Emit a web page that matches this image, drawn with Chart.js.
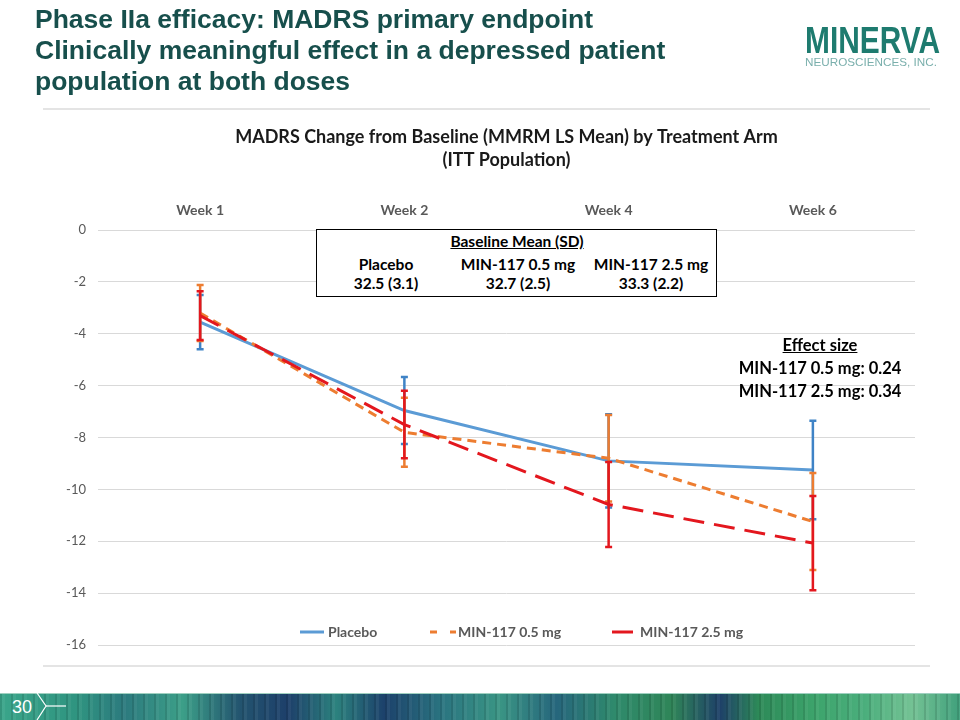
<!DOCTYPE html>
<html>
<head>
<meta charset="utf-8">
<script src="https://cdn.jsdelivr.net/npm/chart.js@4"></script>
<style>
  html, body { margin:0; padding:0; width:960px; height:720px; background:#fff; overflow:hidden; }
  #wrap { position:relative; width:960px; height:720px; }
  #chart { position:absolute; left:0; top:0; }
  .abs { position:absolute; }
  #head { left:35px; top:4px; font-family:"Liberation Sans", Arial, sans-serif; font-weight:bold;
          font-size:26.5px; line-height:31px; color:#174F4C; white-space:nowrap; }
  .rule { position:absolute; left:43px; width:887px; height:2px; background:#E4E4E4; }
  #tbl { left:316px; top:229px; width:399px; height:66px; border:1px solid #000; background:#fff;
         font-family:Lato, "Open Sans", sans-serif; font-weight:bold; font-size:15.5px; color:#000; }
  #tbl div { position:absolute; transform:translateX(-50%); white-space:nowrap; }
  #eff { left:720px; top:334px; width:200px; text-align:center; font-family:Lato, "Open Sans", sans-serif;
         font-weight:bold; font-size:16.5px; line-height:23px; color:#000; }
  #legend { left:0; top:622px; width:960px; height:20px; font-family:Lato, "Open Sans", sans-serif;
            font-weight:bold; font-size:14px; color:#595959; }
  #legend span { position:absolute; top:1px; white-space:nowrap; }
  #legend svg { position:absolute; top:0; }
  #strip { left:0; top:693px; width:960px; height:27px; border-top:1px solid #9fd0c0;
    background:
      repeating-linear-gradient(90deg, rgba(0,0,0,0.10) 0 2px, rgba(255,255,255,0.05) 2px 5px, transparent 5px 11px),
      linear-gradient(90deg, #3aa58a 0%, #2f9480 8%, #2c7a7e 13%, #3c9f88 19%, #23546f 25%, #1d3f6a 30%, #2c827e 35%, #1c416b 40%, #2a7480 46%, #3a9584 52%, #26667c 58%, #2f8a6c 64%, #2f8558 70%, #1e4068 75%, #2d8a58 79%, #3da46c 85%, #4aae7c 90%, #74c294 95%, #40a07c 100%); }
</style>
</head>
<body>
<div id="wrap">
  <canvas id="chart" width="960" height="720"></canvas>

  <div id="head" class="abs">Phase IIa efficacy: MADRS primary endpoint<br>Clinically meaningful effect in a depressed patient<br>population at both doses</div>

  <svg class="abs" style="left:800px;top:20px" width="150" height="55">
    <text x="5" y="33" font-family="Liberation Sans, Arial, sans-serif" font-weight="bold" font-size="36" fill="#1E7B6F" textLength="135" lengthAdjust="spacingAndGlyphs">MINERVA</text>
    <text x="5" y="46" font-family="Liberation Sans, Arial, sans-serif" font-size="11" fill="#7AAFAC" textLength="132" lengthAdjust="spacingAndGlyphs">NEUROSCIENCES, INC.</text>
  </svg>

  <div class="rule" style="top:108px"></div>
  <div class="rule" style="top:665px"></div>

  <div id="tbl" class="abs">
    <div style="left:200px;top:2px;text-decoration:underline">Baseline Mean (SD)</div>
    <div style="left:69px;top:25px">Placebo</div>
    <div style="left:201px;top:25px">MIN-117 0.5 mg</div>
    <div style="left:334px;top:25px">MIN-117 2.5 mg</div>
    <div style="left:69px;top:44px">32.5 (3.1)</div>
    <div style="left:201px;top:44px">32.7 (2.5)</div>
    <div style="left:334px;top:44px">33.3 (2.2)</div>
  </div>

  <div id="eff" class="abs"><u>Effect size</u><br>MIN-117 0.5 mg: 0.24<br>MIN-117 2.5 mg: 0.34</div>

  <div id="legend" class="abs">
    <svg style="left:300px" width="26" height="20"><line x1="0" y1="10" x2="24" y2="10" stroke="#5B9BD5" stroke-width="3"/></svg>
    <span style="left:328px">Placebo</span>
    <svg style="left:430px" width="30" height="20"><line x1="0" y1="10" x2="26" y2="10" stroke="#ED7D31" stroke-width="3" stroke-dasharray="7,13"/></svg>
    <span style="left:458px">MIN-117 0.5 mg</span>
    <svg style="left:612px" width="26" height="20"><line x1="0" y1="10" x2="21" y2="10" stroke="#E3171E" stroke-width="3"/></svg>
    <span style="left:640px">MIN-117 2.5 mg</span>
  </div>

  <div id="strip" class="abs"></div>
  <svg class="abs" style="left:0;top:693px" width="80" height="27">
    <text x="12" y="20" font-family="Liberation Sans, Arial, sans-serif" font-size="18" fill="#fff">30</text>
    <polyline points="37,0 46,13 37,27" fill="none" stroke="#fff" stroke-width="1.2"/>
    <line x1="46" y1="13" x2="66" y2="13" stroke="#fff" stroke-width="1.2"/>
  </svg>
</div>

<script>
// ---- data ----
const weeks = ["Week 1", "Week 2", "Week 4", "Week 6"];
const seriesNames = ["Placebo", "MIN-117 0.5 mg", "MIN-117 2.5 mg"];
const placebo = [-3.55, -6.96, -8.9, -9.25];
const placeboErr = [1.05, 1.29, 1.8, 1.9];
const dose05 = [-3.2, -7.8, -8.8, -11.24];
const dose05Err = [1.08, 1.33, 1.67, 1.87];
const dose25 = [-3.3, -7.5, -10.58, -12.07];
const dose25Err = [0.94, 1.3, 1.64, 1.82];
const yTicks = [0, -2, -4, -6, -8, -10, -12, -14, -16];

Chart.defaults.font.family = 'Lato, "Open Sans", sans-serif';

const errorBars = {
  id: 'errorBars',
  afterDatasetDraw(chart, args) {
    const ds = chart.data.datasets[args.index];
    if (!ds.err) return;
    const ctx = chart.ctx, ys = chart.scales.y;
    ctx.save();
    ctx.strokeStyle = ds.errColor;
    ctx.lineWidth = 2.5;
    ctx.setLineDash([]);
    args.meta.data.forEach((pt, i) => {
      const v = ds.data[i], e = ds.err[i];
      const yt = ys.getPixelForValue(v + e), yb = ys.getPixelForValue(v - e);
      ctx.beginPath();
      ctx.moveTo(pt.x, yt); ctx.lineTo(pt.x, yb);
      ctx.moveTo(pt.x - 3.5, yt); ctx.lineTo(pt.x + 3.5, yt);
      ctx.moveTo(pt.x - 3.5, yb); ctx.lineTo(pt.x + 3.5, yb);
      ctx.stroke();
    });
    ctx.restore();
  }
};

new Chart(document.getElementById('chart'), {
  type: 'line',
  data: {
    labels: weeks,
    datasets: [
      { label: seriesNames[0], data: placebo, err: placeboErr, errColor: '#3F83C6',
        borderColor: '#5B9BD5', borderWidth: 3, pointRadius: 0, tension: 0, fill: false, order: 3 },
      { label: seriesNames[1], data: dose05, err: dose05Err, errColor: '#ED7D31',
        borderColor: '#ED7D31', borderWidth: 3, borderDash: [9, 6], pointRadius: 0, tension: 0, fill: false, order: 2 },
      { label: seriesNames[2], data: dose25, err: dose25Err, errColor: '#E3171E',
        borderColor: '#E3171E', borderWidth: 3, borderDash: [21, 10], pointRadius: 0, tension: 0, fill: false, order: 1 }
    ]
  },
  options: {
    responsive: false,
    devicePixelRatio: 1,
    animation: false,
    layout: { padding: { left: 63, right: 45, top: 111, bottom: 75 } },
    plugins: {
      legend: { display: false },
      tooltip: { enabled: false },
      title: {
        display: true,
        fullSize: false,
        text: ['MADRS Change from Baseline (MMRM LS Mean) by Treatment Arm', '(ITT Population)'],
        color: '#1a1a1a',
        font: { size: 18, weight: 'bold', lineHeight: 1.28 },
        padding: { top: 14.5, bottom: 18.5 }
      }
    },
    scales: {
      x: {
        type: 'category',
        position: 'top',
        offset: true,
        grid: { display: false },
        border: { display: false },
        ticks: { color: '#595959', font: { size: 14, weight: 'bold' }, padding: 3 },
        afterFit(s) { s.height = 40; }
      },
      y: {
        min: -16, max: 0,
        afterBuildTicks(s) { s.ticks = yTicks.map(v => ({ value: v })); },
        grid: { color: '#D9D9D9', lineWidth: 1, drawTicks: false },
        border: { display: false },
        ticks: { color: '#595959', font: { size: 13 }, padding: 12 },
        afterFit(s) { s.width = 35; }
      }
    }
  },
  plugins: [errorBars]
});
</script>
</body>
</html>
